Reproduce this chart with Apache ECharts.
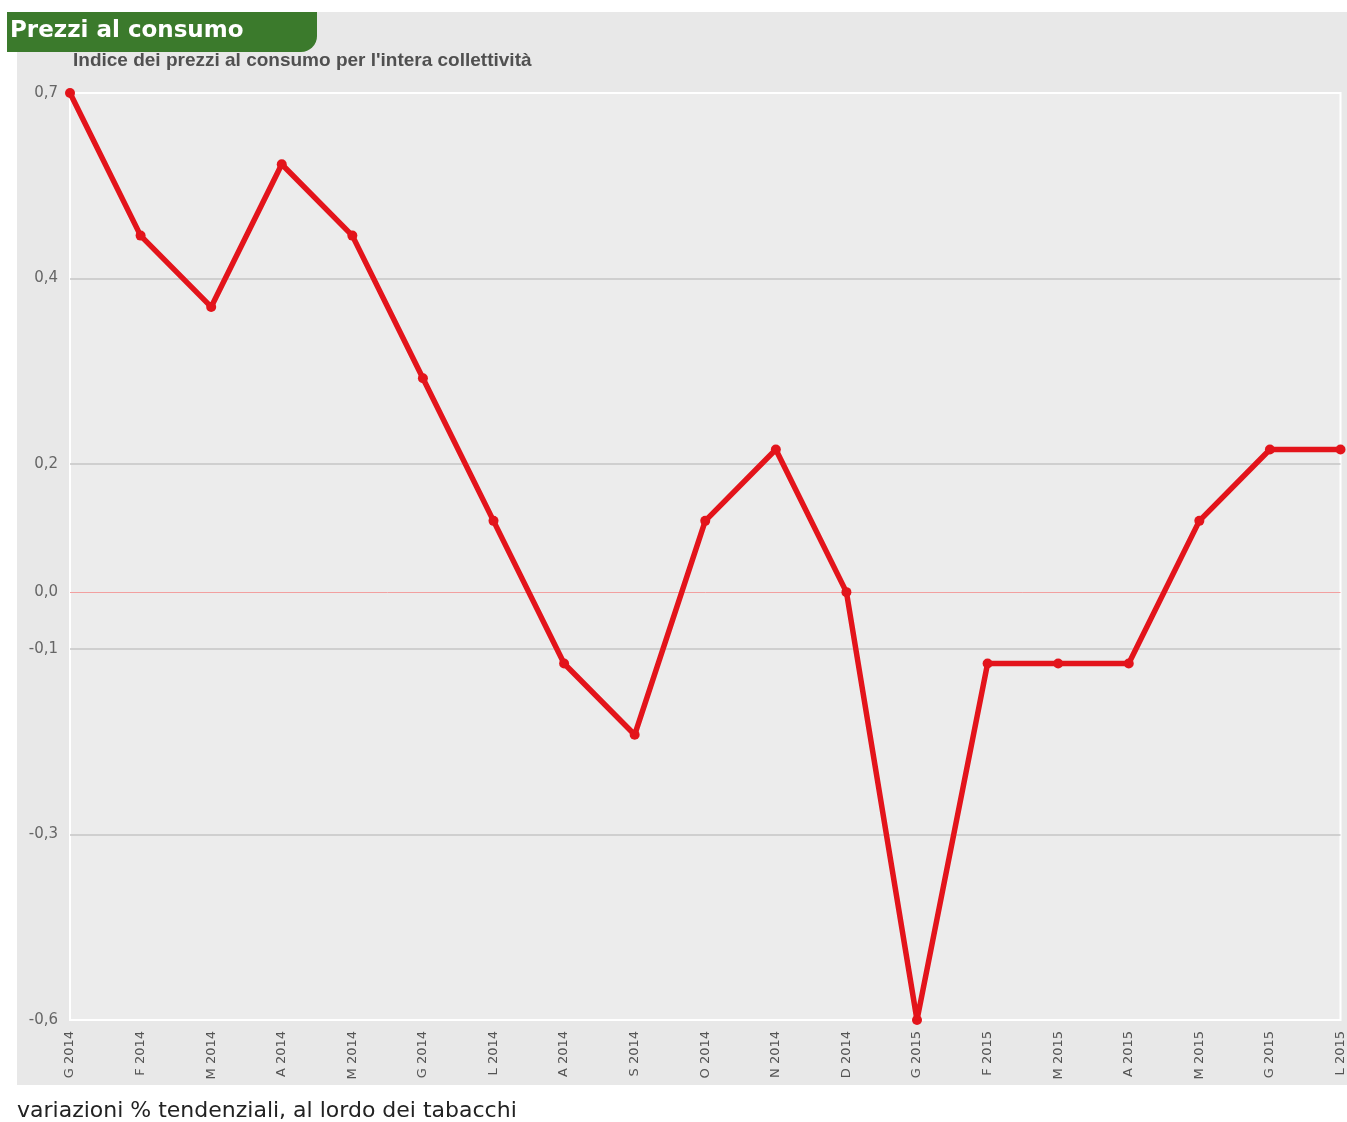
<!DOCTYPE html>
<html>
<head>
<meta charset="utf-8">
<script src="https://cdn.jsdelivr.net/npm/echarts@6/dist/echarts.min.js"></script>
<style>
html,body{margin:0;padding:0;background:#fff;}
#main{width:1347px;height:1122px;}
</style>
</head>
<body>
<div id="main"></div>
<script>
// mesi (G = gennaio, F = febbraio, ...)
var mesi = ['G 2014','F 2014','M 2014','A 2014','M 2014','G 2014','L 2014','A 2014','S 2014','O 2014','N 2014','D 2014',
	'G 2015','F 2015','M 2015','A 2015','M 2015','G 2015','L 2015'];
// variazioni % tendenziali
var valori = [0.7,0.5,0.4,0.6,0.5,0.3,0.1,-0.1,-0.2,0.1,0.2,0.0,-0.6,-0.1,-0.1,-0.1,0.1,0.2,0.2];
// etichette asse y (5 intervalli uguali tra -0,6 e 0,7)
var yEtichette = ['-0,6','-0,3','-0,1','0,2','0,4','0,7'];

var myChart = echarts.init(document.getElementById('main'));

var option = {
	backgroundColor: '#fff',
	animation: false,
	graphic: [
		{
			type: 'rect', z: -10,
			shape: {x: 17, y: 12, width: 1330, height: 1073},
			style: {fill: '#e8e8e8'}
		},
		{
			type: 'rect', z: 10,
			shape: {x: 7, y: 12, width: 310, height: 40, r: [0, 0, 16, 0]},
			style: {fill: '#3b7a2c'}
		},
		{
			type: 'text', z: 11, x: 10, y: 31,
			style: {text: 'Prezzi al consumo', fill: '#fff', font: 'bold 23px "DejaVu Sans"', verticalAlign: 'middle'}
		},
		{
			type: 'text', z: 11, x: 73, y: 61,
			style: {text: "Indice dei prezzi al consumo per l'intera collettività", fill: '#505050', font: 'bold 19px "Liberation Sans"', verticalAlign: 'middle'}
		},
		{
			type: 'text', z: 11, x: 17, y: 1111,
			style: {text: 'variazioni % tendenziali, al lordo dei tabacchi', fill: '#222', font: '22px "DejaVu Sans"', verticalAlign: 'middle'}
		}
	],
	grid: {
		left: 70, right: 6, top: 93, bottom: 102,
		show: true,
		backgroundColor: '#ececec',
		borderColor: '#fff',
		borderWidth: 2
	},
	xAxis: {
		type: 'category',
		boundaryGap: false,
		data: mesi,
		axisLine: {show: false},
		axisTick: {show: false},
		axisLabel: {
			rotate: 90,
			margin: 11,
			interval: 0,
			color: '#555',
			fontSize: 13,
			fontFamily: 'DejaVu Sans'
		}
	},
	yAxis: [
		{
			type: 'value',
			min: -0.6,
			max: 0.7,
			show: false,
			splitLine: {show: false}
		},
		{
			type: 'value',
			position: 'left',
			min: 0,
			max: 5,
			interval: 1,
			axisLine: {show: false},
			axisTick: {show: false},
			axisLabel: {
				margin: 12,
				color: '#666',
				fontSize: 15,
				fontFamily: 'DejaVu Sans',
				formatter: function(v){
					return yEtichette[Math.round(v)];
				}
			},
			splitLine: {
				lineStyle: {
					color: ['#fff','#c6c6c6','#c6c6c6','#c6c6c6','#c6c6c6','#fff'],
					width: 1.5
				}
			}
		}
	],
	series: [
		{
			type: 'line',
			yAxisIndex: 0,
			data: valori,
			symbol: 'circle',
			symbolSize: 10,
			lineStyle: {color: '#e3141b', width: 5.5},
			itemStyle: {color: '#e3141b'},
			z: 5,
			markLine: {
				silent: true,
				symbol: 'none',
				lineStyle: {color: '#f2a0a0', width: 1, type: 'solid'},
				label: {
					position: 'start',
					distance: 12,
					formatter: '0,0',
					color: '#666',
					fontSize: 15,
					fontFamily: 'DejaVu Sans'
				},
				data: [{yAxis: 0}]
			}
		}
	]
};
option && myChart.setOption(option);
</script>
</body>
</html>
